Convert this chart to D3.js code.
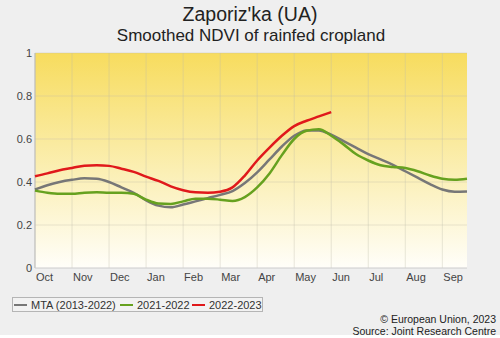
<!DOCTYPE html>
<html>
<head>
<meta charset="utf-8">
<script src="https://cdn.jsdelivr.net/npm/d3@7"></script>
<style>
  body { margin: 0; background: #fff; }
  svg { display: block; font-family: "Liberation Sans", Arial, sans-serif; }
</style>
</head>
<body>
<div id="grafico"></div>
<script>
// Datos por década (36 décadas, Oct -> Sep)
var meses = ["Oct", "Nov", "Dec", "Jan", "Feb", "Mar", "Apr", "May", "Jun", "Jul", "Aug", "Sep"];
var yTicks = [0, 0.2, 0.4, 0.6, 0.8, 1];

var mta = [0.365, 0.385, 0.40, 0.41, 0.417, 0.415, 0.40, 0.375, 0.35, 0.315, 0.29, 0.282,
           0.295, 0.31, 0.325, 0.34, 0.358, 0.395, 0.445, 0.505, 0.565, 0.615, 0.64, 0.64,
           0.62, 0.59, 0.56, 0.53, 0.505, 0.48, 0.45, 0.42, 0.39, 0.365, 0.355, 0.356];
var s2122 = [0.36, 0.35, 0.345, 0.345, 0.35, 0.352, 0.35, 0.35, 0.345, 0.318, 0.30, 0.298,
             0.31, 0.322, 0.322, 0.318, 0.312, 0.33, 0.375, 0.44, 0.525, 0.60, 0.638, 0.645,
             0.615, 0.575, 0.53, 0.50, 0.478, 0.47, 0.465, 0.45, 0.43, 0.415, 0.41, 0.415];
var s2223 = [0.427, 0.44, 0.455, 0.465, 0.476, 0.478, 0.475, 0.462, 0.447, 0.425, 0.405, 0.38,
             0.362, 0.352, 0.35, 0.355, 0.375, 0.43, 0.50, 0.56, 0.615, 0.66, 0.685, 0.705,
             0.725];

var series = [
    { etiqueta: "MTA (2013-2022)", valores: mta, color: "#777777" },
    { etiqueta: "2021-2022", valores: s2122, color: "#66a11f" },
    { etiqueta: "2022-2023", valores: s2223, color: "#e0191b" }
];

var width = 500, height = 338;
var pIzq = 35, pDer = 467, pArriba = 53, pAbajo = 268;

var svg = d3.select("#grafico").append("svg")
    .attr("width", width)
    .attr("height", height);

// Fondo
svg.append("rect").attr("width", width).attr("height", 335).attr("fill", "#efefef");

var defs = svg.append("defs");
var grad = defs.append("linearGradient").attr("id", "fondo")
    .attr("x1", 0).attr("y1", 0).attr("x2", 0).attr("y2", 1);
grad.append("stop").attr("offset", "0%").attr("stop-color", "#f7dc5e");
grad.append("stop").attr("offset", "55%").attr("stop-color", "#fbefb4");
grad.append("stop").attr("offset", "100%").attr("stop-color", "#fffef9");

var x = d3.scaleLinear().domain([0, 35]).range([pIzq, pDer]);
var y = d3.scaleLinear().domain([0, 1]).range([pAbajo, pArriba]);

svg.append("rect")
    .attr("x", pIzq).attr("y", pArriba)
    .attr("width", pDer - pIzq).attr("height", pAbajo - pArriba)
    .attr("fill", "url(#fondo)");

// Rejilla
var g = svg.append("g");
g.selectAll(".vgrid")
    .data(meses)
    .enter().append("line")
    .attr("x1", function(d, i) { return x(i * 3); })
    .attr("x2", function(d, i) { return x(i * 3); })
    .attr("y1", pArriba).attr("y2", pAbajo)
    .attr("stroke", "rgba(190,185,170,0.35)").attr("stroke-width", 1);

g.selectAll(".hgrid")
    .data(yTicks.slice(1))
    .enter().append("line")
    .attr("x1", pIzq).attr("x2", pDer)
    .attr("y1", function(d) { return y(d); })
    .attr("y2", function(d) { return y(d); })
    .attr("stroke", "rgba(190,185,170,0.35)").attr("stroke-width", 1);

// Ejes
svg.append("line").attr("x1", pIzq).attr("x2", pIzq).attr("y1", pArriba).attr("y2", pAbajo)
    .attr("stroke", "#bbbbbb");
svg.append("line").attr("x1", pIzq).attr("x2", pDer).attr("y1", pAbajo).attr("y2", pAbajo)
    .attr("stroke", "#cccccc");

svg.selectAll(".ylab")
    .data(yTicks)
    .enter().append("text")
    .attr("x", pIzq - 3)
    .attr("y", function(d) { return y(d) + 4; })
    .attr("text-anchor", "end")
    .attr("font-size", 11)
    .attr("fill", "#444")
    .text(function(d) { return d; });

svg.selectAll(".xlab")
    .data(meses)
    .enter().append("text")
    .attr("x", function(d, i) { return x(i * 3) + 1; })
    .attr("y", 281)
    .attr("font-size", 11)
    .attr("fill", "#444")
    .text(function(d) { return d; });

// Líneas
var linea = d3.line()
    .x(function(d, i) { return x(i); })
    .y(function(d) { return y(d); })
    .curve(d3.curveMonotoneX);

svg.selectAll(".serie")
    .data(series)
    .enter().append("path")
    .attr("d", function(d) { return linea(d.valores); })
    .attr("fill", "none")
    .attr("stroke", function(d) { return d.color; })
    .attr("stroke-width", 2.5)
    .attr("stroke-linejoin", "round");

// Títulos
svg.append("text").attr("x", 250).attr("y", 21).attr("text-anchor", "middle")
    .attr("font-size", 19.5).attr("fill", "#222").text("Zaporiz'ka (UA)");
svg.append("text").attr("x", 251).attr("y", 41).attr("text-anchor", "middle")
    .attr("font-size", 17).attr("fill", "#222").text("Smoothed NDVI of rainfed cropland");

// Leyenda
svg.append("rect").attr("x", 12.5).attr("y", 297.5).attr("width", 250).attr("height", 14)
    .attr("fill", "#f2f2f2").attr("stroke", "#b5b5b5");
var posLeyenda = [14, 120, 192];
var leyenda = svg.selectAll(".ley")
    .data(series)
    .enter().append("g")
    .attr("transform", function(d, i) { return "translate(" + posLeyenda[i] + ",305)"; });
leyenda.append("line").attr("x1", 0).attr("x2", 13).attr("y1", 0).attr("y2", 0)
    .attr("stroke", function(d) { return d.color; }).attr("stroke-width", 2);
leyenda.append("text").attr("x", 17).attr("y", 4).attr("font-size", 11).attr("fill", "#333")
    .text(function(d) { return d.etiqueta; });

// Créditos
svg.append("text").attr("x", 496).attr("y", 323).attr("text-anchor", "end")
    .attr("font-size", 10.5).attr("fill", "#222").text("\u00a9 European Union, 2023");
svg.append("text").attr("x", 496).attr("y", 334.5).attr("text-anchor", "end")
    .attr("font-size", 10.5).attr("fill", "#222").text("Source: Joint Research Centre");
</script>
</body>
</html>
